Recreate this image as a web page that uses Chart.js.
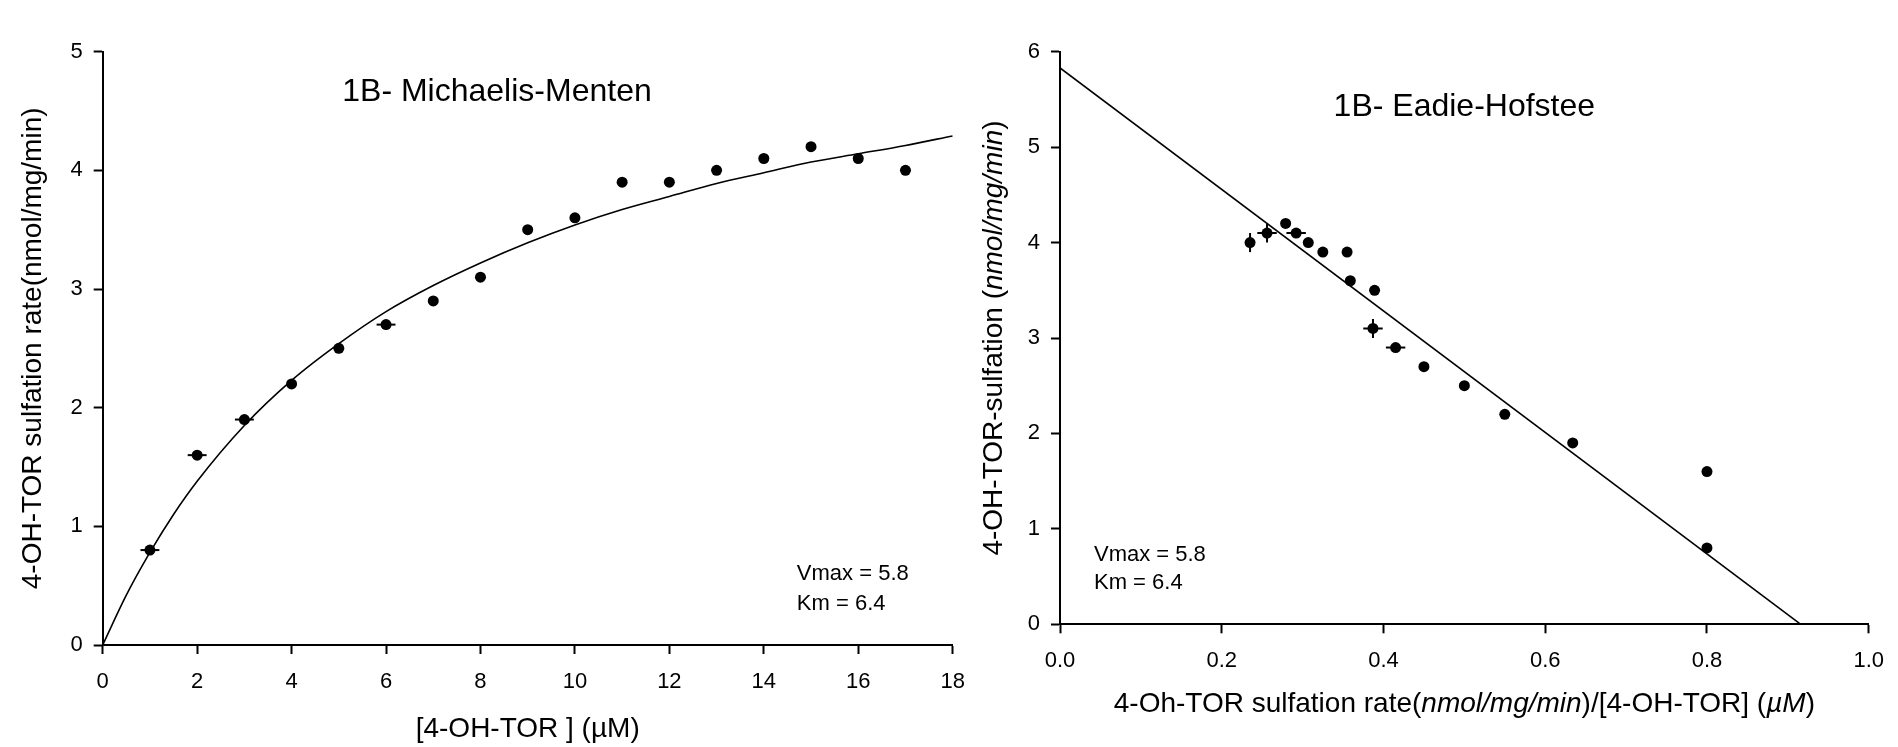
<!DOCTYPE html>
<html>
<head>
<meta charset="utf-8">
<script src="https://cdn.jsdelivr.net/npm/chart.js@4.4.1/dist/chart.umd.min.js"></script>
<style>
  html, body { margin: 0; padding: 0; background: #fff; }
  body { width: 1898px; height: 747px; position: relative; overflow: hidden; }
  canvas { position: absolute; top: 0; }
  #mmChart { left: 0; }
  #ehChart { left: 960px; }
</style>
</head>
<body>
<canvas id="mmChart" width="1000" height="747"></canvas>
<canvas id="ehChart" width="938" height="747"></canvas>
<script>
const FONT = "'Liberation Sans', Arial, sans-serif";

// 1B Michaelis-Menten: measured points
const mmConc = [1, 2, 3, 4, 5, 6, 7, 8, 9, 10, 11, 12, 13, 14, 15, 16, 17];
const mmRate = [0.8, 1.6, 1.9, 2.2, 2.5, 2.7, 2.9, 3.1, 3.5, 3.6, 3.9, 3.9, 4.0, 4.1, 4.2, 4.1, 4.0];
const mmConcErr = [0.2, 0.2, 0.2, 0, 0, 0.2, 0, 0, 0, 0, 0, 0, 0, 0, 0, 0, 0];
// fitted curve
const mmFitConc = [0, 0.5, 1, 1.5, 2, 3, 4, 5, 6, 7, 8, 9, 10, 11, 12, 13, 14, 15, 16, 17, 18];
const mmFitRate = [0, 0.42, 0.78, 1.1, 1.38, 1.85, 2.23, 2.54, 2.81, 3.03, 3.22, 3.39, 3.54, 3.67, 3.78, 3.89, 3.98, 4.07, 4.14, 4.21, 4.29];

// 1B Eadie-Hofstee
const ehRatio = [0.235, 0.256, 0.279, 0.292, 0.307, 0.325, 0.355, 0.359, 0.389, 0.387, 0.415, 0.45, 0.5, 0.55, 0.634, 0.8, 0.8];
const ehRate = [4.0, 4.1, 4.2, 4.1, 4.0, 3.9, 3.9, 3.6, 3.5, 3.1, 2.9, 2.7, 2.5, 2.2, 1.9, 1.6, 0.8];
const ehRatioErr = [0, 0.012, 0, 0.012, 0, 0, 0, 0, 0, 0.012, 0.012, 0, 0, 0, 0, 0, 0];
const ehRateErr = [0.1, 0.1, 0, 0, 0, 0, 0, 0, 0, 0.1, 0, 0, 0, 0, 0, 0, 0];
const ehFitRatio = [0, 0.916];
const ehFitRate = [5.83, 0];

const xy = (xs, ys) => xs.map((x, i) => ({ x, y: ys[i] }));

// error bars drawn through the scales
const errorBars = {
  id: "errorBars",
  afterDatasetsDraw(chart) {
    const { ctx, scales: { x, y } } = chart;
    ctx.save();
    ctx.strokeStyle = "#000";
    ctx.lineWidth = 2;
    chart.data.datasets.forEach(ds => {
      if (!ds.xErr && !ds.yErr) return;
      ds.data.forEach((p, i) => {
        const xe = ds.xErr ? ds.xErr[i] : 0;
        const ye = ds.yErr ? ds.yErr[i] : 0;
        ctx.beginPath();
        if (xe) {
          ctx.moveTo(x.getPixelForValue(p.x - xe), y.getPixelForValue(p.y));
          ctx.lineTo(x.getPixelForValue(p.x + xe), y.getPixelForValue(p.y));
        }
        if (ye) {
          ctx.moveTo(x.getPixelForValue(p.x), y.getPixelForValue(p.y - ye));
          ctx.lineTo(x.getPixelForValue(p.x), y.getPixelForValue(p.y + ye));
        }
        ctx.stroke();
      });
    });
    ctx.restore();
  }
};

function drawRich(ctx, parts, cx, cy, size, rotate) {
  ctx.save();
  ctx.translate(cx, cy);
  if (rotate) ctx.rotate(-Math.PI / 2);
  ctx.textBaseline = "middle";
  ctx.textAlign = "left";
  ctx.fillStyle = "#000";
  const fonts = parts.map(p => `${p.italic ? "italic " : ""}${size}px ${FONT}`);
  let total = 0;
  const widths = parts.map((p, i) => {
    ctx.font = fonts[i];
    const w = ctx.measureText(p.text).width;
    total += w;
    return w;
  });
  let x = -total / 2;
  parts.forEach((p, i) => {
    ctx.font = fonts[i];
    ctx.fillText(p.text, x, 0);
    x += widths[i];
  });
  ctx.restore();
}

// in-plot notes and rich axis titles
const notes = {
  id: "notes",
  afterDraw(chart, args, opts) {
    const { ctx, scales: { x, y }, chartArea } = chart;
    (opts.items || []).forEach(n => {
      ctx.save();
      ctx.fillStyle = "#000";
      ctx.font = `${n.size}px ${FONT}`;
      ctx.textAlign = n.align || "center";
      ctx.textBaseline = "middle";
      ctx.fillText(n.text, x.getPixelForValue(n.x), y.getPixelForValue(n.y));
      ctx.restore();
    });
    if (opts.xTitle) {
      drawRich(ctx, opts.xTitle, (chartArea.left + chartArea.right) / 2, opts.xTitleY, 28, false);
    }
    if (opts.yTitle) {
      drawRich(ctx, opts.yTitle, opts.yTitleX, (chartArea.top + chartArea.bottom) / 2, 28, true);
    }
  }
};

function axis(min, max, step, size, pad, extra) {
  return Object.assign({
    type: "linear",
    min, max,
    border: { display: true, color: "#000", width: 2 },
    grid: { drawOnChartArea: false, drawTicks: true, tickLength: 9, tickColor: "#000", tickWidth: 2 },
    ticks: { stepSize: step, color: "#000", font: { family: FONT, size }, padding: pad, maxRotation: 0, autoSkip: false }
  }, extra);
}

const baseOpts = {
  responsive: false,
  animation: false,
  devicePixelRatio: 1,
  plugins: { legend: { display: false }, tooltip: { enabled: false } }
};

new Chart(document.getElementById("mmChart"), {
  type: "scatter",
  data: {
    datasets: [
      {
        data: xy(mmConc, mmRate),
        xErr: mmConcErr,
        pointRadius: 5.5,
        pointBackgroundColor: "#000",
        pointBorderWidth: 0,
        order: 0
      },
      {
        data: xy(mmFitConc, mmFitRate),
        showLine: true,
        borderColor: "#000",
        borderWidth: 1.6,
        pointRadius: 0,
        cubicInterpolationMode: "monotone",
        order: 1
      }
    ]
  },
  options: {
    ...baseOpts,
    layout: { padding: { left: 0, right: 47.3, top: 51.7, bottom: 0 } },
    scales: {
      x: axis(0, 18, 2, 22, 15, {
        title: { display: true, text: "[4-OH-TOR ] (µM)", color: "#000", font: { family: FONT, size: 28 }, padding: { top: 0, bottom: 1 } },
        afterFit: s => { s.height = 102; }
      }),
      y: axis(0, 5, 1, 22, 11, {
        title: { display: true, text: "4-OH-TOR sulfation rate(nmol/mg/min)", color: "#000", font: { family: FONT, size: 28 }, padding: { top: 16, bottom: 0 } },
        afterFit: s => { s.width = 102.7; }
      })
    },
    plugins: {
      ...baseOpts.plugins,
      notes: {
        items: [
          { text: "1B- Michaelis-Menten", x: 8.35, y: 4.66, size: 32 },
          { text: "Vmax = 5.8", x: 14.7, y: 0.6, size: 22, align: "left" },
          { text: "Km = 6.4", x: 14.7, y: 0.345, size: 22, align: "left" }
        ]
      }
    }
  },
  plugins: [errorBars, notes]
});

new Chart(document.getElementById("ehChart"), {
  type: "scatter",
  data: {
    datasets: [
      {
        data: xy(ehRatio, ehRate),
        xErr: ehRatioErr,
        yErr: ehRateErr,
        pointRadius: 5.5,
        pointBackgroundColor: "#000",
        pointBorderWidth: 0,
        order: 0
      },
      {
        data: xy(ehFitRatio, ehFitRate),
        showLine: true,
        borderColor: "#000",
        borderWidth: 1.6,
        pointRadius: 0,
        order: 1
      }
    ]
  },
  options: {
    ...baseOpts,
    layout: { padding: { left: 0, right: 19, top: 51.7, bottom: 0 } },
    scales: {
      x: axis(0, 1, 0.2, 22, 14, {
        ticks: { stepSize: 0.2, color: "#000", font: { family: FONT, size: 22 }, padding: 14, maxRotation: 0, autoSkip: false, callback: v => v.toFixed(1) },
        afterFit: s => { s.height = 122.7; }
      }),
      y: axis(0, 6, 1, 22, 11, {
        afterFit: s => { s.width = 100; }
      })
    },
    plugins: {
      ...baseOpts.plugins,
      notes: {
        items: [
          { text: "1B- Eadie-Hofstee", x: 0.5, y: 5.42, size: 32 },
          { text: "Vmax = 5.8", x: 0.042, y: 0.726, size: 22, align: "left" },
          { text: "Km = 6.4", x: 0.042, y: 0.433, size: 22, align: "left" }
        ],
        xTitle: [
          { text: "4-Oh-TOR sulfation rate(" },
          { text: "nmol/mg/min", italic: true },
          { text: ")/[4-OH-TOR] (" },
          { text: "µM", italic: true },
          { text: ")" }
        ],
        xTitleY: 704,
        yTitle: [
          { text: "4-OH-TOR-sulfation (" },
          { text: "nmol/mg/min", italic: true },
          { text: ")" }
        ],
        yTitleX: 34
      }
    }
  },
  plugins: [errorBars, notes]
});
</script>
</body>
</html>
